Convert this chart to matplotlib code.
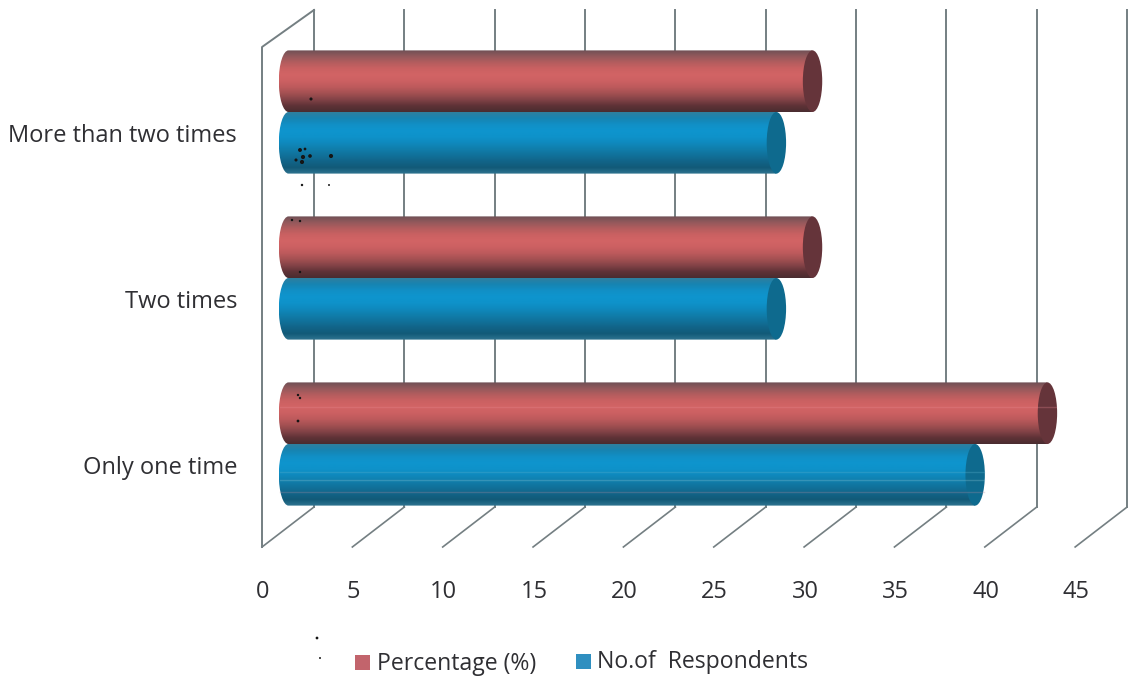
#!/usr/bin/env python3
"""Horizontal cylinder bar chart of visit frequency, drawn with a fake 3D box."""

import numpy as np
import matplotlib.pyplot as plt
from matplotlib.colors import LinearSegmentedColormap
from matplotlib.patches import Ellipse, PathPatch, Rectangle
from matplotlib.path import Path

categories = ['Only one time', 'Two times', 'More than two times']
percentage = [42, 29, 29]
respondents = [38, 27, 27]
x_ticks = [0, 5, 10, 15, 20, 25, 30, 35, 40, 45]

# stray dots on the page, in pixels from the top left
speck_x = [311, 300, 303, 302, 310, 331, 305, 296, 302, 329, 292, 300, 300, 317, 320, 300, 298, 298]
speck_y = [99, 150, 157, 162, 156, 156, 149, 160, 185, 185, 220, 221, 272, 638, 658, 398, 421, 395]
speck_s = [5, 8, 9, 9, 7, 9, 4, 5, 3, 2, 3, 3, 3, 4, 2, 3, 4, 3]

PX_PER_UNIT = 18.07
ORIGIN_PX = 288.5
ROW_PX = 166.0
ROW0_PX = 444.0
TEXT_SIZE = 17
LEGEND_SIZE = 16.6
TEXT_COLOR = '#2f2f33'

WIDTH, HEIGHT = 1128, 680

RED = ['#6f5055', '#94595c', '#b45d5e', '#cb6162', '#d26465', '#cc6062', '#bd5a5c', '#a35052', '#834347', '#5f3237', '#4a2c30']
BLUE = ['#2f7f9f', '#1684b2', '#1190c6', '#0e95ce', '#0e92ca', '#0f89bd', '#107eab', '#11719a', '#116488', '#125a78', '#2f7490']
RED_CAP = '#65343a'
BLUE_CAP = '#0e6a8e'
GRID = '#747f82'


def xpx(px):
    return (px - ORIGIN_PX) / PX_PER_UNIT


def ypx(px):
    return (ROW0_PX - px) / ROW_PX


def cylinder(ax, value, centre, colors, cap):
    half = 30.8 / ROW_PX
    rx = 9.7 / PX_PER_UNIT
    k = 0.5523
    # body outline: rounded on the left, closed by the cap on the right
    verts = [(0, centre + half),
             (value, centre + half), (value, centre - half), (0, centre - half),
             (-k * rx, centre - half), (-rx, centre - k * half), (-rx, centre),
             (-rx, centre + k * half), (-k * rx, centre + half), (0, centre + half)]
    codes = [Path.MOVETO, Path.LINETO, Path.LINETO, Path.LINETO,
             Path.CURVE4, Path.CURVE4, Path.CURVE4, Path.CURVE4, Path.CURVE4, Path.CURVE4]
    shape = PathPatch(Path(verts, codes), fc='none', ec='none', transform=ax.transData)
    ax.add_patch(shape)
    cmap = LinearSegmentedColormap.from_list('shade', colors)
    shade = np.linspace(0, 1, 128).reshape(-1, 1)
    im = ax.imshow(shade, cmap=cmap, aspect='auto', origin='upper', zorder=3,
                   extent=(-rx, value, centre - half, centre + half))
    im.set_clip_path(shape)
    ax.add_patch(Ellipse((value, centre), 2 * rx, 2 * half, fc=cap, ec='none', zorder=3))


def streak(ax, value, y, color):
    rx = 9.0 / PX_PER_UNIT
    ax.plot([-rx, value + rx], [ypx(y), ypx(y)], color=color, lw=1, alpha=0.3, zorder=3.5)


def main():
    fig = plt.figure(figsize=(WIDTH / 100, HEIGHT / 100), dpi=100)
    ax = fig.add_axes([0, 0, 1, 1])

    # back wall, floor lines and left wall
    front = 26.5 / PX_PER_UNIT
    back = 25.5 / PX_PER_UNIT
    floor_front = ypx(547)
    floor_back = ypx(507)
    top_front = ypx(47)
    top_back = ypx(10)
    for t in x_ticks:
        ax.plot([t + back, t + back], [floor_back, top_back], color=GRID, lw=1.4, zorder=1)
        ax.plot([t - front, t + back], [floor_front, floor_back], color=GRID, lw=1.2, zorder=1)
    ax.plot([-front, -front, back], [floor_front, top_front, top_back], color=GRID, lw=1.4, zorder=1)

    # respondents first so the percentage bars sit on top of them
    offset = 30.8 / ROW_PX
    for i in range(len(categories)):
        cylinder(ax, respondents[i], i - offset, BLUE, BLUE_CAP)
        cylinder(ax, percentage[i], i + offset, RED, RED_CAP)

    # faint print streaks along the lowest pair of bars
    streak(ax, respondents[0], 472, '#5fb3cf')
    streak(ax, respondents[0], 480, '#8fc4d2')
    streak(ax, respondents[0], 492, '#b08aa0')
    streak(ax, percentage[0], 407, '#e58a92')

    for i, name in enumerate(categories):
        ax.text(xpx(237), i - 24 / ROW_PX, name, ha='right', va='center', fontsize=TEXT_SIZE,
                family='Open Sans', color=TEXT_COLOR)
    for t in x_ticks:
        ax.text(t - front + 0.05, ypx(592), str(t), ha='center', va='center', fontsize=TEXT_SIZE,
                family='Open Sans', color=TEXT_COLOR)

    # legend laid out by hand under the axis
    ax.add_patch(Rectangle((xpx(355), ypx(670)), 15 / PX_PER_UNIT, 15 / ROW_PX, fc='#c2646c', ec='none'))
    ax.text(xpx(377), ypx(664), 'Percentage (%)', ha='left', va='center', fontsize=LEGEND_SIZE,
            family='Open Sans', color=TEXT_COLOR)
    ax.add_patch(Rectangle((xpx(576), ypx(669)), 15 / PX_PER_UNIT, 15 / ROW_PX, fc='#2f8fc0', ec='none'))
    ax.text(xpx(597), ypx(662), 'No.of  Respondents', ha='left', va='center', fontsize=LEGEND_SIZE,
            family='Open Sans', color=TEXT_COLOR)

    ax.scatter([xpx(p) for p in speck_x], [ypx(p) for p in speck_y], s=speck_s, color='#151515',
               linewidths=0, zorder=4)

    ax.set_xlim(xpx(0), xpx(WIDTH))
    ax.set_ylim(ypx(HEIGHT), ypx(0))
    ax.axis('off')

    plt.savefig('out.png', dpi=100)


if __name__ == "__main__":
    main()
